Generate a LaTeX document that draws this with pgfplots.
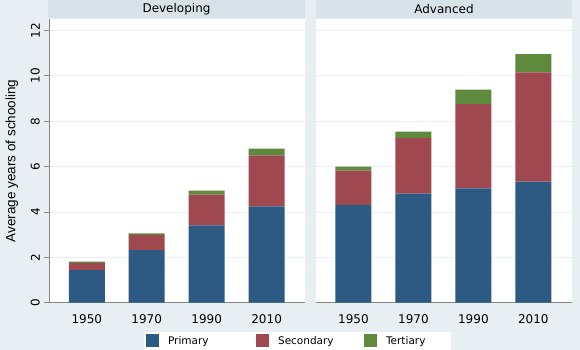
\documentclass[border=0pt]{standalone}
\usepackage{pgfplots}
\pgfplotsset{compat=1.18}
\usepackage{fontspec}
\setmainfont{DejaVu Sans}
\newfontfamily\arialf{Liberation Sans}
\definecolor{bgc}{HTML}{E8EFF2}
\definecolor{stripc}{HTML}{D7E3E8}
\definecolor{gridc}{HTML}{EAF2F3}
\definecolor{axc}{HTML}{858585}
\definecolor{cprim}{HTML}{2D5A82}
\definecolor{csec}{HTML}{A0484F}
\definecolor{cter}{HTML}{5E8A3E}
\pgfplotsset{
  panel/.style={
    scale only axis, width=255.7pt, height=283.5pt,
    ybar stacked, bar width=0.6,
    xmin=-0.625, xmax=3.64, ymin=0, ymax=12.5,
    xtick={0,1,2,3}, xticklabels={1950,1970,1990,2010},
    ytick={0,2,4,6,8,10,12},
    ymajorgrids, major grid style={color=gridc, line width=0.9pt},
    axis background/.style={fill=white},
    axis x line*=bottom, axis y line*=left,
    axis line style={color=axc, line width=0.9pt},
    x axis line style={-}, y axis line style={-},
    tick align=outside, major tick length=5pt,
    xtick style={draw=none},
    ytick style={color=axc, line width=0.9pt},
    /pgf/number format/assume math mode=true,
    tick label style={font=\fontsize{12}{14}\selectfont},
    xticklabel style={yshift=-3pt},
    yticklabel style={rotate=90, anchor=south, yshift=1pt},
  },
  leg/.style={legend image code/.code={\path[##1,draw=none] (0pt,-6.5pt) rectangle (13pt,6.5pt);}},
}
\begin{document}
\begin{tikzpicture}[x=1pt,y=1pt]
\useasboundingbox (0,0) rectangle (580,350);
\fill[bgc] (0,0) rectangle (580,350);
\fill[stripc] (48,332.3) rectangle (305,350);
\fill[stripc] (316,332.3) rectangle (572,350);
\node[font=\fontsize{12}{14}\selectfont] at (176.5,341) {Developing};
\node[font=\fontsize{12}{14}\selectfont] at (444,341) {Advanced};
\begin{axis}[panel, at={(49.3pt,47.3pt)}, anchor=south west,
  ylabel={Average years of schooling},
  every axis y label/.style={at={(axis description cs:-0.146,0.5)}, rotate=90, anchor=center, font=\arialf\fontsize{13.5}{15}\selectfont},
  legend columns=3,
  legend style={at={(axis description cs:0.971,-0.135)}, anchor=center, draw=none, fill=white,
    font=\fontsize{10.5}{12}\selectfont, inner xsep=2pt, inner ysep=2.5pt,
    nodes={inner sep=0pt}, column sep=0pt,
    /tikz/every odd column/.append style={column sep=9pt}},
]
\addplot[fill=cprim, draw=none, leg] coordinates {(0,1.44) (1,2.32) (2,3.41) (3,4.25)};
\addlegendentry{\makebox[88pt][l]{Primary}}
\addplot[fill=csec, draw=none, leg] coordinates {(0,0.30) (1,0.67) (2,1.35) (3,2.25)};
\addlegendentry{\makebox[86pt][l]{Secondary}}
\addplot[fill=cter, draw=none, leg] coordinates {(0,0.07) (1,0.07) (2,0.18) (3,0.29)};
\addlegendentry{\makebox[63pt][l]{Tertiary}}
\end{axis}
\begin{axis}[panel, at={(316pt,47.3pt)}, anchor=south west,
  y axis line style={draw=none}, ytick style={draw=none}, yticklabels={},
]
\addplot[fill=cprim, draw=none] coordinates {(0,4.31) (1,4.81) (2,5.04) (3,5.34)};
\addplot[fill=csec, draw=none] coordinates {(0,1.51) (1,2.45) (2,3.72) (3,4.81)};
\addplot[fill=cter, draw=none] coordinates {(0,0.18) (1,0.28) (2,0.64) (3,0.81)};
\end{axis}
\end{tikzpicture}
\end{document}
